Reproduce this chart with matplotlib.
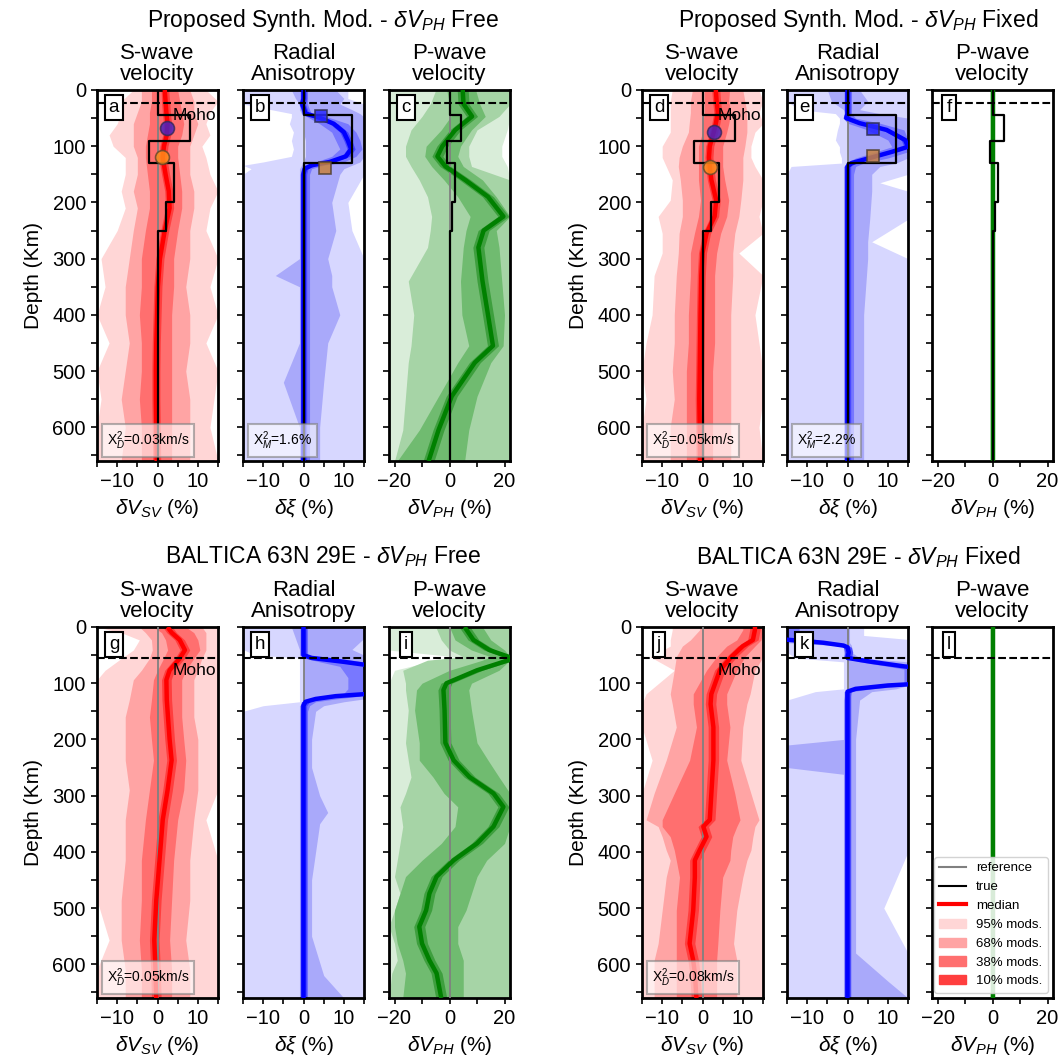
import matplotlib
matplotlib.use('Agg')
import matplotlib.pyplot as plt
from matplotlib.lines import Line2D
from matplotlib.patches import Patch
from matplotlib.ticker import MultipleLocator

plt.rcParams['font.family'] = ['Liberation Sans', 'DejaVu Sans']
plt.rcParams['mathtext.fontset'] = 'custom'
plt.rcParams['mathtext.rm'] = 'Liberation Sans'
plt.rcParams['mathtext.it'] = 'Liberation Sans:italic'
plt.rcParams['mathtext.bf'] = 'Liberation Sans:bold'

# --- synthetic "true" model (layer tops in km, perturbation in %)
true_tops = [0, 44, 90, 130, 200, 250]
true_vs = [0, 8, -2, 4, 2, 0]
true_vp = [0, 4, -1, 2, 1, 0]
xi_tops = [0, 44, 130]
true_xi = [0, 12, 0]

# --- a : dVsv, synthetic, dVph free
a_dep = [0, 20, 40, 60, 80, 100, 120, 150, 180, 210, 250, 300, 350, 400, 450, 500, 550, 600, 660]
a_med = [1.8, 2.0, 2.2, 2.5, 2.3, 1.6, 1.3, 2.0, 2.8, 3.0, 1.8, 0.6, 0.1, -0.1, -0.3, -0.4, -0.4, -0.3, -0.2]
a_95lo = [-6, -9, -9, -10, -12, -11, -8, -8, -9, -8, -10, -14, -13, -15, -12, -15, -14, -15, -15]
a_95hi = [12, 15, 13, 12, 13, 11, 12, 13, 15, 13, 12, 15, 13, 15, 12, 15, 14, 13, 15]
a_68lo = [-4, -4, -5, -6, -6, -6, -5, -5, -6, -5, -6, -7, -8, -8, -7, -8, -9, -8, -9]
a_68hi = [8, 9, 9, 10, 9, 8, 8, 8, 9, 9, 8, 8, 7, 8, 8, 7, 8, 8, 8]
a_38lo = [-1.5, -1.5, -2, -2, -2.5, -3, -3, -2.5, -2, -2, -3, -4, -4, -4.5, -4, -4, -4.5, -4, -4]
a_38hi = [5, 5.5, 6, 6.5, 6, 5, 5, 5.5, 6, 6, 5, 4, 4, 3.5, 3.5, 3.5, 3.5, 3.5, 3.5]
a_10lo = [0.9, 1.0, 1.2, 1.5, 1.3, 0.6, 0.3, 1.0, 1.8, 2.0, 0.8, -0.4, -0.9, -1.1, -1.3, -1.4, -1.4, -1.3, -1.2]
a_10hi = [2.8, 3.0, 3.2, 3.5, 3.3, 2.6, 2.3, 3.0, 3.8, 4.0, 2.8, 1.6, 1.1, 0.9, 0.7, 0.6, 0.6, 0.7, 0.8]

# --- b : radial anisotropy, synthetic, dVph free
b_dep = [0, 15, 25, 35, 42, 48, 60, 75, 90, 105, 118, 128, 134, 140, 150, 200, 250, 300, 330, 350, 400, 450, 520, 600, 660]
b_med = [0, 0, -0.3, 0.2, 0.5, 3.5, 7.5, 10, 11, 11.8, 10.5, 6.5, 2, 0.3, 0, 0, 0, 0, 0, 0, 0, 0, 0, 0, 0]
b_95lo = [-15, -15, -15, -8, -3, -3, -3.5, -2.5, -3, -2.5, -3, -10, -15, -13, -15, -15, -15, -15, -15, -15, -15, -15, -15, -15, -15]
b_95hi = [11, 11, 15, 15, 15, 15, 15, 15, 15, 15, 15, 15, 15, 15, 15, 11, 12, 15, 15, 15, 15, 15, 15, 15, 15]
b_68lo = [-3, -2, -1, -1, -0.5, 0, 0, 0, 0.5, 0.5, 0.5, 0, -0.5, -1, -1, -1, -1, -1, -7, -1, -1, -1, -5, -1, -1]
b_68hi = [8, 10, 9, 12, 14, 15, 15, 15, 15, 15, 15, 14, 12, 10, 9, 7, 8, 6, 7, 7, 9, 6, 5, 4, 4]
b_38lo = [-0.5, -0.5, -1, -0.5, -0.5, 1, 4, 7, 8, 9, 7, 3, 0, -0.5, -0.5, -0.5, -0.5, -0.5, -0.5, -0.5, -0.5, -0.5, -0.5, -0.5, -0.5]
b_38hi = [1, 1, 1, 1.5, 2, 6, 11, 13, 14, 14.5, 13, 10, 5, 2, 1.5, 1.5, 1.5, 1.5, 1.5, 1.5, 1.5, 1.5, 1.5, 1.5, 1.5]
b_10lo = [-0.8, -0.8, -1.1, -0.6, -0.3, 2.5, 6.5, 9, 10, 10.8, 9.5, 5.5, 1, -0.5, -0.8, -0.8, -0.8, -0.8, -0.8, -0.8, -0.8, -0.8, -0.8, -0.8, -0.8]
b_10hi = [0.8, 0.8, 0.5, 1.0, 1.3, 4.5, 8.5, 11, 12, 12.8, 11.5, 7.5, 3, 1.1, 0.8, 0.8, 0.8, 0.8, 0.8, 0.8, 0.8, 0.8, 0.8, 0.8, 0.8]

# --- c : dVph, synthetic, free
c_dep = [0, 25, 47, 71, 100, 118, 136, 160, 190, 225, 250, 280, 340, 400, 455, 485, 545, 605, 660]
c_med = [4.8, 5.1, 8.2, 2.1, -2.6, -4.4, -1.5, 5.7, 14, 19.6, 12.4, 10.5, 12, 14, 15.8, 9.2, 0.8, -4, -7.6]
c_95lo = [-22, -22, -22, -22, -22, -22, -22, -22, -22, -22, -22, -22, -22, -22, -22, -22, -22, -22, -22]
c_95hi = [22, 22, 22, 21, 19, 19, 21, 22, 22, 22, 22, 22, 22, 22, 22, 22, 22, 22, 22]
c_68lo = [-5, -7, -10, -14, -16, -16, -14, -11, -8, -6.5, -7, -8, -15, -13, -14, -15, -16, -17, -20]
c_68hi = [22, 22, 18, 10, 7, 7, 8, 22, 22, 22, 22, 22, 22, 22, 22, 22, 22, 22, 22]
c_38lo = [-1, 0, 0.5, -3, -8.5, -9, -6.5, -2, 3, 7.5, 6, 5, 4, 4.5, 7, 3, -4, -11, -19]
c_38hi = [9.5, 11, 13, 8, 4, 3, 5, 12, 17, 22, 17, 18, 19, 20, 19.5, 15, 10, 7, 5.5]
c_10lo = [2.8, 3.1, 6.2, 0.1, -4.6, -6.4, -3.5, 3.7, 12, 17.6, 10.4, 8.5, 10, 12, 13.8, 7.2, -1.2, -6, -9.6]
c_10hi = [6.8, 7.1, 10.2, 4.1, -0.6, -2.4, 0.5, 7.7, 16, 21.6, 14.4, 12.5, 14, 16, 17.8, 11.2, 2.8, -2, -5.6]

# --- d : dVsv, synthetic, dVph fixed
d_dep = [0, 20, 40, 60, 75, 100, 120, 136, 160, 196, 225, 255, 290, 330, 400, 450, 500, 550, 600, 660]
d_med = [3.3, 3.5, 3.8, 3.3, 2.8, 1.8, 1.6, 1.8, 2.2, 3.4, 3.0, 1.0, 0.0, -0.3, -0.5, -0.6, -0.7, -0.8, -0.7, -0.6]
d_95lo = [-7.5, -8, -8, -8, -8, -10, -10, -9, -7.5, -8, -11, -10, -10, -12, -12.5, -14, -15, -14, -15, -15]
d_95hi = [14, 15, 14, 15, 13, 12, 12, 13, 15, 15, 14, 15, 9, 15, 13, 14, 15, 15, 14, 15]
d_68lo = [-2.5, -3, -3, -3.3, -3.5, -5, -5.8, -6, -5.5, -5, -5, -5.8, -6, -6.5, -7, -7, -7.5, -7, -8, -8]
d_68hi = [10, 10.5, 11, 11, 11, 10.5, 10, 10, 10, 9.5, 9, 8, 7.5, 7.5, 7, 7, 7, 7, 7, 7]
d_38lo = [0.5, 0.5, 0.5, 0, 0, -1, -1, -1, -1, -0.5, -1, -2, -3, -3, -3.5, -3.5, -4, -4, -4, -4]
d_38hi = [6.7, 6.5, 7, 6.5, 6, 5, 5, 5, 5.5, 6.5, 6, 4.5, 3.5, 3, 3, 3, 2.5, 2.5, 2.5, 2.5]
d_10lo = [2.3, 2.5, 2.8, 2.3, 1.8, 0.8, 0.6, 0.8, 1.2, 2.4, 2.0, 0.0, -1.0, -1.3, -1.5, -1.6, -1.7, -1.8, -1.7, -1.6]
d_10hi = [4.3, 4.5, 4.8, 4.3, 3.8, 2.8, 2.6, 2.8, 3.2, 4.4, 4.0, 2.0, 1.0, 0.7, 0.5, 0.4, 0.3, 0.2, 0.3, 0.4]

# --- e : radial anisotropy, synthetic, dVph fixed
e_dep = [0, 20, 35, 42, 50, 59, 71, 89, 101, 110, 121, 130, 136, 150, 165, 180, 230, 270, 300, 350, 400, 450, 500, 550, 600, 660]
e_med = [0, 0, 0, 0, -0.3, 3, 9.7, 14.3, 15, 11, 5.5, 1, 0, 0, 0, 0, 0, 0, 0, 0, 0, 0, 0, 0, 0, 0]
e_95lo = [-15, -15, -12, -3, -2, -2, -2.5, -3, -2, -2, -1.5, -1.5, -14, -15, -15, -15, -15, -15, -15, -15, -15, -15, -15, -15, -15, -15]
e_95hi = [15, 15, 15, 15, 15, 15, 15, 15, 15, 15, 15, 15, 15, 15, 8, 15, 15, 6, 15, 15, 15, 15, 15, 15, 15, 15]
e_68lo = [-5, -4, -1, -0.5, -0.5, 0, 0, 0, 0, 0, 0, 0, -1, -1, -1, -1, -1, -1, -1, -1, -1, -1, -1, -1, -1, -1]
e_68hi = [3, 5, 3, 8, 15, 15, 15, 15, 15, 15, 15, 12, 8, 6, 6, 6, 5.5, 5, 5, 4.5, 4, 4, 4, 4, 4, 4]
e_38lo = [-0.5, -0.5, -0.5, -0.5, -1, 0, 5, 10, 11, 7, 2, -0.5, -0.5, -0.5, -0.5, -0.5, -0.5, -0.5, -0.5, -0.5, -0.5, -0.5, -0.5, -0.5, -0.5, -0.5]
e_38hi = [1, 1, 1, 1, 2, 8, 14, 15, 15, 15, 10, 4, 2, 1.5, 1.5, 1.5, 1.5, 1.5, 1.5, 1.5, 1.5, 1.5, 1.5, 1.5, 1.5, 1.5]
e_10lo = [-0.8, -0.8, -0.8, -0.8, -1.1, 2, 8.7, 13.3, 14, 10, 4.5, 0, -0.8, -0.8, -0.8, -0.8, -0.8, -0.8, -0.8, -0.8, -0.8, -0.8, -0.8, -0.8, -0.8, -0.8]
e_10hi = [0.8, 0.8, 0.8, 0.8, 0.5, 4, 10.7, 15.3, 16, 12, 6.5, 2, 0.8, 0.8, 0.8, 0.8, 0.8, 0.8, 0.8, 0.8, 0.8, 0.8, 0.8, 0.8, 0.8, 0.8]

# --- f / l : dVph fixed to reference
fix_dep = [0, 660]
fix_med = [0, 0]
fix_lo = [-1, -1]
fix_hi = [1, 1]

# --- g : dVsv, BALTICA, dVph free
g_dep = [0, 10, 23, 41, 56, 77, 94, 130, 160, 200, 237, 290, 343, 415, 486, 557, 610, 660]
g_med = [2.5, 3.5, 5.5, 6.8, 5.5, 3.0, 2.2, 2.3, 2.6, 3.0, 3.5, 2.5, 1.3, 0.5, -0.3, -0.8, -0.5, -0.3]
g_95lo = [-15, -9, -4.5, -6, -9, -13, -15, -15, -15, -15, -15, -15, -15, -15, -15, -12, -15, -15]
g_95hi = [15, 15, 15, 15, 15, 15, 15, 15, 15, 15, 15, 15, 12, 15, 15, 15, 15, 15]
g_68lo = [-4.5, -3, -1.5, -1.3, -2, -4, -6, -7, -8, -8, -8, -7, -8, -8, -9, -9, -8, -8]
g_68hi = [11, 12, 12, 12, 11, 10, 9, 9, 9, 10, 10, 10, 9, 8, 8, 7, 8, 8]
g_38lo = [-1, 1, 2, 2.5, 1.5, 0, -1, -1.5, -2, -1.5, -1, -2, -3, -4, -4, -4.5, -4, -4]
g_38hi = [7, 9, 10, 10.5, 9, 7, 6, 6, 6, 6.5, 7, 6.5, 5, 4, 3.5, 3, 3.5, 3.5]
g_10lo = [1.3, 2.3, 4.3, 5.6, 4.3, 1.8, 1.0, 1.1, 1.4, 1.8, 2.3, 1.3, 0.1, -0.7, -1.5, -2.0, -1.7, -1.5]
g_10hi = [3.7, 4.7, 6.7, 8.0, 6.7, 4.2, 3.4, 3.5, 3.8, 4.2, 4.7, 3.7, 2.5, 1.7, 0.9, 0.4, 0.7, 0.9]

# --- h : radial anisotropy, BALTICA, dVph free
h_dep = [0, 20, 40, 50, 55, 62, 70, 90, 110, 118, 123, 128, 133, 140, 150, 200, 250, 300, 330, 350, 400, 450, 500, 550, 620, 660]
h_med = [0, 0, 0, 0, 2, 10, 18, 20, 20, 18, 8, 3, 0.5, 0, 0, 0, 0, 0, 0, 0, 0, 0, 0, 0, 0, 0]
h_95lo = [-15, -15, -15, -12, -1, -1, -1, -1, -1, -1, -1, -1, -1, -10, -15, -15, -15, -15, -15, -15, -15, -15, -15, -15, -15, -15]
h_95hi = [15, 15, 15, 15, 15, 15, 15, 15, 15, 15, 15, 15, 15, 15, 15, 15, 15, 15, 15, 15, 15, 15, 15, 15, 15, 15]
h_68lo = [-3, -2, -1, -1, 0, 0, 0, 0, 0, 0, 0, 0, 0, -1, -1, -1, -1, -1, -1, -1, -1, -1, -1, -1, -1, -1]
h_68hi = [15, 15, 12, 15, 15, 15, 15, 15, 15, 15, 15, 15, 10, 5, 3, 2, 2, 4, 6, 4, 3, 2, 2, 2, 5, 10]
h_38lo = [-0.5, -0.5, -0.5, -0.5, 0, 4, 9, 11, 11, 10, 4, 1, -0.5, -0.5, -0.5, -0.5, -0.5, -0.5, -0.5, -0.5, -0.5, -0.5, -0.5, -0.5, -0.5, -0.5]
h_38hi = [1, 1, 1, 1, 8, 15, 15, 15, 15, 15, 14, 8, 3, 1.5, 1, 1, 1, 1, 1, 1, 1, 1, 1, 1, 1, 1]
h_10lo = [-0.8, -0.8, -0.8, -0.8, 1, 9, 17, 19, 19, 17, 7, 2, -0.5, -0.8, -0.8, -0.8, -0.8, -0.8, -0.8, -0.8, -0.8, -0.8, -0.8, -0.8, -0.8, -0.8]
h_10hi = [0.8, 0.8, 0.8, 0.8, 3, 11, 19, 21, 21, 19, 9, 4, 1.5, 0.8, 0.8, 0.8, 0.8, 0.8, 0.8, 0.8, 0.8, 0.8, 0.8, 0.8, 0.8, 0.8]

# --- i : dVph, BALTICA, free
i_dep = [0, 23, 41, 53, 59, 77, 100, 112, 148, 206, 237, 267, 296, 320, 355, 385, 415, 444, 474, 504, 533, 563, 593, 616, 660]
i_med = [5.5, 8.7, 14.5, 21.5, 21.5, 10, -1.1, -2.2, -1.8, -1.5, 1.5, 7.3, 16, 19.6, 16, 10, 1.5, -4.7, -7.3, -8.5, -11, -10, -7.3, -4.7, -3]
i_95lo = [-22, -22, -22, 2, -5, -20, -22, -22, -22, -22, -22, -22, -22, -22, -22, -22, -22, -22, -22, -22, -22, -22, -22, -22, -22]
i_95hi = [22, 22, 22, 22, 22, 22, 22, 22, 22, 22, 22, 22, 22, 22, 22, 22, 22, 22, 22, 22, 22, 22, 22, 22, 22]
i_68lo = [-5, -3, 0, 5, -8, -17, -16, -16, -15, -16, -15, -14, -16, -18, -17, -18, -19, -20, -18, -20, -22, -20, -19, -21, -22]
i_68hi = [22, 22, 22, 22, 22, 22, 22, 22, 22, 22, 22, 22, 22, 22, 22, 22, 22, 22, 22, 22, 22, 22, 22, 22, 22]
i_38lo = [0, 2, 8, 15, 12, 0, -10, -12, -12.7, -11, -11, -6, -2, 3, 2, -3, -10, -16, -18, -20, -20, -19, -17, -16, -17]
i_38hi = [12, 15, 20, 22, 22, 18, 8, 7, 8, 10, 14, 18, 22, 22, 22, 20, 13.5, 10, 8, 6, 3, 3, 5, 5, 5]
i_10lo = [3.5, 6.7, 12.5, 19.5, 19.5, 8, -3.1, -4.2, -3.8, -3.5, -0.5, 5.3, 14, 17.6, 14, 8, -0.5, -6.7, -9.3, -10.5, -13, -12, -9.3, -6.7, -5]
i_10hi = [7.5, 10.7, 16.5, 23.5, 23.5, 12, 0.9, -0.2, 0.2, 0.5, 3.5, 9.3, 18, 21.6, 18, 12, 3.5, -2.7, -5.3, -6.5, -9, -8, -5.3, -2.7, -1]

# --- j : dVsv, BALTICA, dVph fixed
j_dep = [0, 5, 23, 34, 53, 77, 119, 137, 178, 237, 296, 343, 355, 373, 397, 415, 445, 504, 563, 593, 616, 660]
j_med = [13, 13, 12.5, 10, 7.2, 4.3, 2.2, 2.0, 2.7, 2.7, 2.2, 1.8, 0.2, 1.0, -0.7, -1.9, -1.9, -2.3, -3.2, -2.3, -1.9, -1.5]
j_95lo = [-7.5, -7.5, -8, -8, -13, -7, -14, -15, -15, -12.5, -15, -15, -15, -15, -15, -15, -15, -15, -15, -15, -15, -15]
j_95hi = [15, 15, 15, 15, 15, 15, 15, 15, 15, 15, 15, 15, 15, 15, 15, 15, 15, 15, 15, 15, 15, 15]
j_68lo = [-0.7, -0.7, -3, -5, -6.5, -7, -8, -7.5, -6.5, -9, -12, -14, -11, -10, -9, -8, -9, -10, -11, -12, -12, -12]
j_68hi = [15, 15, 15, 15, 15, 13, 11.8, 11, 10, 9.5, 12, 14, 13, 12.5, 12, 11, 10, 8.5, 7.7, 8.5, 8.5, 8.5]
j_38lo = [10, 10, 8.5, 6, 3.5, 1, -2.3, -2.3, -1.5, -3.2, -7, -10, -10, -8, -7, -6.5, -5.7, -6.5, -6.5, -6.5, -6.5, -6.5]
j_38hi = [15, 15, 14.5, 13, 10.5, 8.5, 6, 6, 6.8, 6, 8, 9.3, 8.5, 7.5, 7, 6.8, 5, 4.3, 3.8, 3.5, 3.5, 3.5]
j_10lo = [11.7, 11.7, 11.2, 8.7, 5.9, 3.0, 0.9, 0.7, 1.4, 1.4, 0.9, 0.5, -1.1, -0.3, -2.0, -3.2, -3.2, -3.6, -4.5, -3.6, -3.2, -2.8]
j_10hi = [14.3, 14.3, 13.8, 11.3, 8.5, 5.6, 3.5, 3.3, 4.0, 4.0, 3.5, 3.1, 1.5, 2.3, 0.6, -0.6, -0.6, -1.0, -1.9, -1.0, -0.6, -0.2]

# --- k : radial anisotropy, BALTICA, dVph fixed
k_dep = [0, 15, 22, 28, 33, 36, 45, 55, 62, 70, 75, 100, 104, 110, 115, 130, 200, 210, 250, 262, 300, 400, 500, 580, 630, 660]
k_med = [-20, -19, -16, -6, -1, 0, 0.3, 0, 6, 14, 20, 20, 10, 2, 0, 0, 0, 0, 0, 0, 0, 0, 0, 0, 0, 0]
k_95lo = [-15, -15, -15, -15, -15, -15, -15, -13, -1, -1, -1, -1, -1, -1, -8, -15, -15, -15, -15, -15, -15, -15, -15, -15, -15, -15]
k_95hi = [4, 4, 15, 15, 15, 15, 15, 15, 15, 15, 15, 15, 15, 15, 15, 15, 15, 15, 15, 15, 15, 15, 9, 15, 15, 15]
k_68lo = [-15, -15, -15, -15, -3, -1, -1, -0.5, 0, 0, 0, 0, 0, 0, -0.5, -1, -1, -15, -15, -1, -1, -1, -1, -1, -1, -1]
k_68hi = [0.5, 0.5, 0.5, 0.5, 1, 1, 1, 3, 15, 15, 15, 15, 15, 12, 6, 3, 2, 2, 2, 2, 2, 2, 2, 2, 10, 15]
k_38lo = [-15, -15, -15, -8, -2, -0.5, -0.5, -0.5, 3, 10, 14, 14, 5, 0, -0.5, -0.5, -0.5, -0.5, -0.5, -0.5, -0.5, -0.5, -0.5, -0.5, -0.5, -0.5]
k_38hi = [-12, -12, -8, -3, 0.5, 0.5, 0.5, 1, 9, 15, 15, 15, 15, 6, 1, 0.5, 0.5, 0.5, 0.5, 0.5, 0.5, 0.5, 0.5, 0.5, 0.5, 0.5]
k_10lo = [-21, -20, -17, -7, -2, -1, -0.7, -1, 5, 13, 19, 19, 9, 1, -0.8, -0.8, -0.8, -0.8, -0.8, -0.8, -0.8, -0.8, -0.8, -0.8, -0.8, -0.8]
k_10hi = [-19, -18, -15, -5, 0, 1, 1.3, 1, 7, 15, 21, 21, 11, 3, 0.8, 0.8, 0.8, 0.8, 0.8, 0.8, 0.8, 0.8, 0.8, 0.8, 0.8, 0.8]

# colour shades: 95%, 68%, 38%, 10%
RED = ['#ffd6d6', '#ffa4a4', '#ff6f6f', '#ff3e3e']
BLUE = ['#d7d7ff', '#a9a9fa', '#7878ff', '#4848ff']
GREEN = ['#d9edd9', '#a6d4a6', '#70bb70', '#3e9f3e']

MOHO_SYN = 24
MOHO_BAL = 55


def step_xy(tops, vals, bottom=660):
    xs, ys = [], []
    bots = list(tops[1:]) + [bottom]
    for t, b, v in zip(tops, bots, vals):
        xs += [v, v]
        ys += [t, b]
    return xs, ys


def profile(ax, dep, med, bands, shades, mcol):
    for (lo, hi), c in zip(bands, shades):
        ax.fill_betweenx(dep, lo, hi, color=c, lw=0, zorder=1)
    ax.axvline(0, color='grey', lw=1.3, zorder=3)
    ax.plot(med, dep, color=mcol, lw=3.2, zorder=4, solid_capstyle='butt')


def setup(ax, lim, major, minor, letter, moho, ylab, title, xlab):
    ax.set_xlim(-lim, lim)
    ax.set_ylim(660, 0)
    ax.xaxis.set_major_locator(MultipleLocator(major))
    ax.xaxis.set_minor_locator(MultipleLocator(minor))
    ax.yaxis.set_major_locator(MultipleLocator(100))
    ax.yaxis.set_minor_locator(MultipleLocator(50))
    ax.tick_params(which='both', direction='out', length=4.5, width=1.2, labelsize=14.5, pad=3.5)
    ax.tick_params(labelleft=ylab)
    for s in ax.spines.values():
        s.set_linewidth(2)
    ax.axhline(moho, color='k', ls='--', lw=1.5, zorder=6)
    ax.text(0.14, 0.953, letter, transform=ax.transAxes, ha='center', va='center',
            fontsize=13.5, zorder=8,
            bbox=dict(boxstyle='square,pad=0.22', fc='white', ec='k', lw=1.5))
    ax.set_title(title, fontsize=16, pad=7, linespacing=1.0)
    ax.set_xlabel(xlab, fontsize=15, labelpad=4)
    if ylab:
        ax.set_ylabel('Depth (Km)', fontsize=15, labelpad=7)


def misfit(ax, txt):
    ax.text(0.08, 0.055, txt, transform=ax.transAxes, ha='left', va='center', fontsize=10,
            zorder=8, bbox=dict(boxstyle='square,pad=0.35', fc='white', ec='grey', lw=1.5, alpha=0.6))


def moho_label(ax, moho):
    ax.text(14.5, moho + 22, 'Moho', ha='right', va='center', fontsize=12.5, zorder=7)


fig = plt.figure(figsize=(10.63, 10.59), dpi=100)
W, H = 1063, 1059
lefts = [97, 243, 389, 642, 787, 932]
tops_px = [90, 627]


def add_ax(col, row):
    return fig.add_axes([lefts[col] / W, 1 - (tops_px[row] + 371) / H, 121 / W, 371 / H])


xl_s = r'$\delta V_{SV}$ (%)'
xl_x = r'$\delta \xi$ (%)'
xl_p = r'$\delta V_{PH}$ (%)'
t_s = 'S-wave\nvelocity'
t_x = 'Radial\nAnisotropy'
t_p = 'P-wave\nvelocity'

panels = {}
for row in range(2):
    for col in range(6):
        panels[(row, col)] = add_ax(col, row)

vs_x, vs_y = step_xy(true_tops, true_vs)
vp_x, vp_y = step_xy(true_tops, true_vp)
xi_x, xi_y = step_xy(xi_tops, true_xi)

# ---- top row : synthetic model
ax = panels[(0, 0)]
profile(ax, a_dep, a_med, [(a_95lo, a_95hi), (a_68lo, a_68hi), (a_38lo, a_38hi), (a_10lo, a_10hi)], RED, 'red')
ax.plot(vs_x, vs_y, color='k', lw=1.6, zorder=5)
ax.plot(2.4, 67, 'o', ms=10, color='#4a22c0', mec='#3a2a5a', mew=1.2, alpha=0.85, zorder=6)
ax.plot(1.2, 120, 'o', ms=10, color='#ff8c1a', mec='#6a4a2a', mew=1.2, alpha=0.85, zorder=6)
setup(ax, 15, 10, 5, 'a', MOHO_SYN, True, t_s, xl_s)
moho_label(ax, MOHO_SYN)
misfit(ax, r'X$^2_D$=0.03km/s')

ax = panels[(0, 1)]
profile(ax, b_dep, b_med, [(b_95lo, b_95hi), (b_68lo, b_68hi), (b_38lo, b_38hi), (b_10lo, b_10hi)], BLUE, 'blue')
ax.plot(xi_x, xi_y, color='k', lw=1.6, zorder=5)
ax.plot(4.25, 47, 's', ms=9, color='#2a2aff', mec='#303050', mew=1.2, alpha=0.85, zorder=6)
ax.plot(5.3, 138, 's', ms=9, color='#c8823e', mec='#504030', mew=1.2, alpha=0.85, zorder=6)
setup(ax, 15, 10, 5, 'b', MOHO_SYN, False, t_x, xl_x)
misfit(ax, r'X$^2_M$=1.6%')

ax = panels[(0, 2)]
profile(ax, c_dep, c_med, [(c_95lo, c_95hi), (c_68lo, c_68hi), (c_38lo, c_38hi), (c_10lo, c_10hi)], GREEN, 'green')
ax.plot(vp_x, vp_y, color='k', lw=1.6, zorder=5)
setup(ax, 22, 20, 10, 'c', MOHO_SYN, False, t_p, xl_p)

ax = panels[(0, 3)]
profile(ax, d_dep, d_med, [(d_95lo, d_95hi), (d_68lo, d_68hi), (d_38lo, d_38hi), (d_10lo, d_10hi)], RED, 'red')
ax.plot(vs_x, vs_y, color='k', lw=1.6, zorder=5)
ax.plot(2.75, 75, 'o', ms=10, color='#4a22c0', mec='#3a2a5a', mew=1.2, alpha=0.85, zorder=6)
ax.plot(1.9, 137, 'o', ms=10, color='#ff8c1a', mec='#6a4a2a', mew=1.2, alpha=0.85, zorder=6)
setup(ax, 15, 10, 5, 'd', MOHO_SYN, True, t_s, xl_s)
moho_label(ax, MOHO_SYN)
misfit(ax, r'X$^2_D$=0.05km/s')

ax = panels[(0, 4)]
profile(ax, e_dep, e_med, [(e_95lo, e_95hi), (e_68lo, e_68hi), (e_38lo, e_38hi), (e_10lo, e_10hi)], BLUE, 'blue')
ax.plot(xi_x, xi_y, color='k', lw=1.6, zorder=5)
ax.plot(6.3, 70, 's', ms=9, color='#2a2aff', mec='#303050', mew=1.2, alpha=0.85, zorder=6)
ax.plot(6.2, 117, 's', ms=9, color='#c8823e', mec='#504030', mew=1.2, alpha=0.85, zorder=6)
setup(ax, 15, 10, 5, 'e', MOHO_SYN, False, t_x, xl_x)
misfit(ax, r'X$^2_M$=2.2%')

ax = panels[(0, 5)]
profile(ax, fix_dep, fix_med, [(fix_lo, fix_hi)], GREEN, 'green')
ax.plot(vp_x, vp_y, color='k', lw=1.6, zorder=5)
setup(ax, 22, 20, 10, 'f', MOHO_SYN, False, t_p, xl_p)

# ---- bottom row : BALTICA 63N 29E
ax = panels[(1, 0)]
profile(ax, g_dep, g_med, [(g_95lo, g_95hi), (g_68lo, g_68hi), (g_38lo, g_38hi), (g_10lo, g_10hi)], RED, 'red')
setup(ax, 15, 10, 5, 'g', MOHO_BAL, True, t_s, xl_s)
moho_label(ax, MOHO_BAL)
misfit(ax, r'X$^2_D$=0.05km/s')

ax = panels[(1, 1)]
profile(ax, h_dep, h_med, [(h_95lo, h_95hi), (h_68lo, h_68hi), (h_38lo, h_38hi), (h_10lo, h_10hi)], BLUE, 'blue')
setup(ax, 15, 10, 5, 'h', MOHO_BAL, False, t_x, xl_x)

ax = panels[(1, 2)]
profile(ax, i_dep, i_med, [(i_95lo, i_95hi), (i_68lo, i_68hi), (i_38lo, i_38hi), (i_10lo, i_10hi)], GREEN, 'green')
setup(ax, 22, 20, 10, 'i', MOHO_BAL, False, t_p, xl_p)

ax = panels[(1, 3)]
profile(ax, j_dep, j_med, [(j_95lo, j_95hi), (j_68lo, j_68hi), (j_38lo, j_38hi), (j_10lo, j_10hi)], RED, 'red')
setup(ax, 15, 10, 5, 'j', MOHO_BAL, True, t_s, xl_s)
moho_label(ax, MOHO_BAL)
misfit(ax, r'X$^2_D$=0.08km/s')

ax = panels[(1, 4)]
profile(ax, k_dep, k_med, [(k_95lo, k_95hi), (k_68lo, k_68hi), (k_38lo, k_38hi), (k_10lo, k_10hi)], BLUE, 'blue')
setup(ax, 15, 10, 5, 'k', MOHO_BAL, False, t_x, xl_x)

ax = panels[(1, 5)]
profile(ax, fix_dep, fix_med, [(fix_lo, fix_hi)], GREEN, 'green')
setup(ax, 22, 20, 10, 'l', MOHO_BAL, False, t_p, xl_p)

handles = [Line2D([], [], color='grey', lw=1.5),
           Line2D([], [], color='k', lw=1.5),
           Line2D([], [], color='red', lw=3),
           Patch(color=RED[0]), Patch(color=RED[1]), Patch(color=RED[2]), Patch(color=RED[3])]
labels = ['reference', 'true', 'median', '95% mods.', '68% mods.', '38% mods.', '10% mods.']
leg = ax.legend(handles, labels, loc='lower right', fontsize=9.5, framealpha=0.85,
                handlelength=2.0, borderaxespad=0.4)
leg.set_zorder(10)

# group titles
fig.text(323 / W, 1 - 20 / H, r'Proposed Synth. Mod. - $\delta V_{PH}$ Free', ha='center', va='center', fontsize=16.5)
fig.text(858 / W, 1 - 20 / H, r'Proposed Synth. Mod. - $\delta V_{PH}$ Fixed', ha='center', va='center', fontsize=16.5)
fig.text(323 / W, 1 - 557 / H, r'BALTICA 63N 29E - $\delta V_{PH}$ Free', ha='center', va='center', fontsize=16.5)
fig.text(858 / W, 1 - 557 / H, r'BALTICA 63N 29E - $\delta V_{PH}$ Fixed', ha='center', va='center', fontsize=16.5)

fig.savefig('out.png', dpi=100)
